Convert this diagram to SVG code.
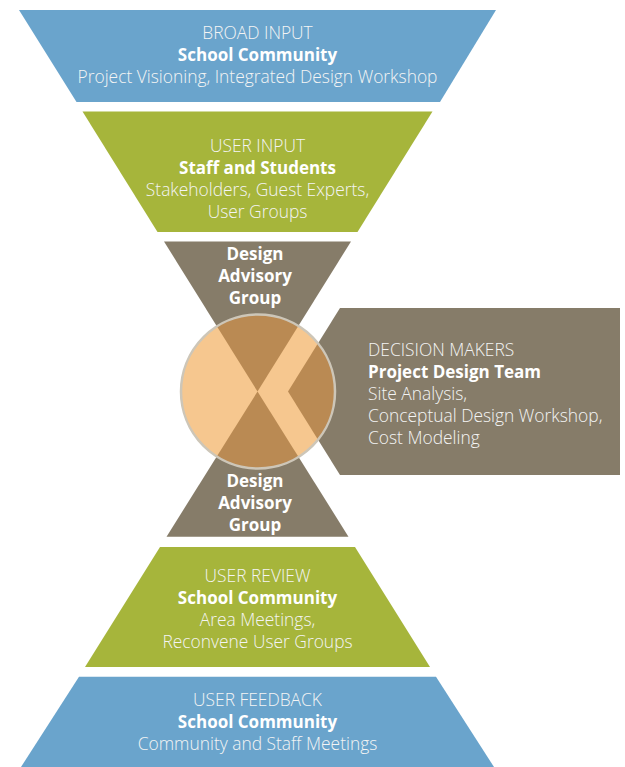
<svg xmlns="http://www.w3.org/2000/svg" width="625" height="767" viewBox="0 0 625 767">
  <defs>
    <style>
      .blue { fill: #6aa4cc; }
      .green { fill: #a6b53b; }
      .gray { fill: #867c69; }
      .hub { fill: #f6c78f; }
      .overlap { fill: #ba8a53; }
      .ring { fill: none; stroke: #cdc6b8; stroke-width: 2.5; }
      text { font-family: "Open Sans", "Noto Sans", "DejaVu Sans", sans-serif; fill: #ffffff; }
      .c { text-anchor: middle; }
      .r { font-size: 17.4px; font-weight: 300; fill: #f4f4f4; }
      .b { font-size: 17px; font-weight: 700; }
    </style>
    <clipPath id="hubClip">
      <circle cx="258" cy="391.5" r="77"/>
    </clipPath>
  </defs>

  <g id="broad-input">
    <polygon class="blue" points="19,10 496,10 440,102 76.5,102"/>
    <text class="r c" x="257.5" y="39">BROAD INPUT</text>
    <text class="b c" x="257.5" y="61">School Community</text>
    <text class="r c" x="257.5" y="83">Project Visioning, Integrated Design Workshop</text>
  </g>

  <g id="user-input">
    <polygon class="green" points="82.5,111.5 432.5,111.5 357.5,232 157.5,232"/>
    <text class="r c" x="257.5" y="151.5">USER INPUT</text>
    <text class="b c" x="257.5" y="173.5">Staff and Students</text>
    <text class="r c" x="257.5" y="195.5">Stakeholders, Guest Experts,</text>
    <text class="r c" x="257.5" y="217.5">User Groups</text>
  </g>

  <g id="design-advisory-top">
    <polygon class="gray" points="164,241.5 351,241.5 257.5,391.5"/>
  </g>

  <g id="decision-makers">
    <polygon class="gray" points="340,308 620,308 620,475 340,475 288,391.5"/>
  </g>

  <g id="design-advisory-bottom">
    <polygon class="gray" points="166.5,536.7 348.5,536.7 257.5,391.5"/>
  </g>

  <g id="hub">
    <circle class="hub" cx="258" cy="391.5" r="77"/>
    <g clip-path="url(#hubClip)">
      <polygon class="overlap" points="164,241.5 351,241.5 257.5,391.5"/>
      <polygon class="overlap" points="166.5,536.7 348.5,536.7 257.5,391.5"/>
      <polygon class="overlap" points="340,308 620,308 620,475 340,475 288,391.5"/>
    </g>
    <circle class="ring" cx="258" cy="391.5" r="77"/>
  </g>

  <g id="design-advisory-top-label">
    <text class="b c" x="255" y="260">Design</text>
    <text class="b c" x="255" y="282">Advisory</text>
    <text class="b c" x="255" y="304">Group</text>
  </g>

  <g id="decision-makers-label">
    <text class="r" x="368" y="356">DECISION MAKERS</text>
    <text class="b" x="368" y="378">Project Design Team</text>
    <text class="r" x="368" y="400">Site Analysis,</text>
    <text class="r" x="368" y="422">Conceptual Design Workshop,</text>
    <text class="r" x="368" y="444">Cost Modeling</text>
  </g>

  <g id="design-advisory-bottom-label">
    <text class="b c" x="255" y="487">Design</text>
    <text class="b c" x="255" y="509">Advisory</text>
    <text class="b c" x="255" y="531">Group</text>
  </g>

  <g id="user-review">
    <polygon class="green" points="160,547 355,547 430,667 85,667"/>
    <text class="r c" x="257.5" y="582">USER REVIEW</text>
    <text class="b c" x="257.5" y="604">School Community</text>
    <text class="r c" x="257.5" y="626">Area Meetings,</text>
    <text class="r c" x="257.5" y="648">Reconvene User Groups</text>
  </g>

  <g id="user-feedback">
    <polygon class="blue" points="79,676.7 436,676.7 494,767 21,767"/>
    <text class="r c" x="257.5" y="706">USER FEEDBACK</text>
    <text class="b c" x="257.5" y="728">School Community</text>
    <text class="r c" x="257.5" y="750">Community and Staff Meetings</text>
  </g>

  <g id="connectors"></g>
</svg>
